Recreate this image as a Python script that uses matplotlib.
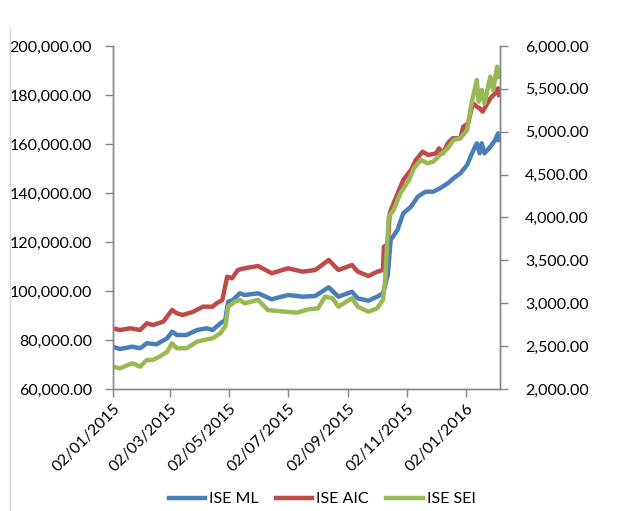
import matplotlib
matplotlib.use("Agg")
import matplotlib.pyplot as plt
import matplotlib.dates as mdates
from matplotlib.ticker import FuncFormatter
import pandas as pd

plt.rcParams['font.family'] = ['Lato', 'DejaVu Sans']

# ---- data ----
ml_dates = ["2015-01-02", "2015-01-09", "2015-01-22", "2015-01-30", "2015-02-06", "2015-02-16",
            "2015-02-27", "2015-03-04", "2015-03-09", "2015-03-19", "2015-03-30", "2015-04-09",
            "2015-04-15", "2015-04-23", "2015-04-28", "2015-05-01", "2015-05-06", "2015-05-13",
            "2015-05-18", "2015-06-01", "2015-06-15", "2015-07-02", "2015-07-17", "2015-07-30",
            "2015-08-13", "2015-08-23", "2015-09-06", "2015-09-12", "2015-09-23", "2015-10-02",
            "2015-10-08", "2015-10-13", "2015-10-16", "2015-10-23", "2015-10-29", "2015-11-06",
            "2015-11-13", "2015-11-21", "2015-11-29", "2015-12-06", "2015-12-14", "2015-12-20",
            "2015-12-27", "2016-01-03", "2016-01-08", "2016-01-13", "2016-01-16", "2016-01-18",
            "2016-01-21", "2016-01-27", "2016-02-01", "2016-02-04", "2016-02-05"]
ml_values = [77270, 76330, 77270, 76610, 78650, 78250,
             80700, 83390, 82040, 82040, 84080, 84780,
             84080, 86820, 88160, 95630, 96330, 99060,
             98370, 99060, 96610, 98370, 97680, 97960,
             101510, 97680, 99710, 97000, 96040, 97680,
             99060, 106500, 120820, 124900, 131710, 134410,
             138490, 140530, 140530, 141920, 143960, 146000,
             148040, 151430, 156200, 160290, 156200, 160290,
             156200, 158900, 161630, 164370, 161630]

aic_dates = ["2015-01-02", "2015-01-09", "2015-01-20", "2015-01-30", "2015-02-06", "2015-02-12",
             "2015-02-23", "2015-03-04", "2015-03-09", "2015-03-15", "2015-03-26", "2015-04-05",
             "2015-04-15", "2015-04-19", "2015-04-25", "2015-04-30", "2015-05-05", "2015-05-11",
             "2015-05-18", "2015-06-01", "2015-06-15", "2015-07-02", "2015-07-17", "2015-07-30",
             "2015-08-13", "2015-08-23", "2015-09-06", "2015-09-12", "2015-09-23", "2015-10-02",
             "2015-10-08", "2015-10-09", "2015-10-13", "2015-10-15", "2015-10-19", "2015-10-29",
             "2015-11-06", "2015-11-11", "2015-11-18", "2015-11-24", "2015-12-02", "2015-12-05",
             "2015-12-09", "2015-12-14", "2015-12-19", "2015-12-27", "2015-12-30", "2016-01-04",
             "2016-01-09", "2016-01-13", "2016-01-16", "2016-01-19", "2016-01-27", "2016-02-01",
             "2016-02-04", "2016-02-05"]
aic_values = [84780, 84080, 84780, 84080, 86820, 86120,
              87470, 92250, 90900, 90200, 91550, 93600,
              93600, 94980, 96330, 105830, 105180, 108570,
              109270, 110200, 107230, 109270, 107880, 108570,
              112650, 108570, 110610, 107880, 106120, 107880,
              108570, 118100, 119000, 131710, 135800, 145310,
              149390, 153470, 156860, 155510, 156200, 158250,
              156200, 160290, 162330, 162330, 167060, 168450,
              176610, 175230, 174570, 173180, 178650, 180690,
              182730, 180000]

sei_dates = ["2015-01-02", "2015-01-09", "2015-01-22", "2015-01-30", "2015-02-06", "2015-02-12",
             "2015-02-19", "2015-02-27", "2015-03-04", "2015-03-09", "2015-03-19", "2015-03-30",
             "2015-04-09", "2015-04-15", "2015-04-23", "2015-04-28", "2015-05-01", "2015-05-08",
             "2015-05-13", "2015-05-18", "2015-06-01", "2015-06-11", "2015-06-29", "2015-07-11",
             "2015-07-23", "2015-08-02", "2015-08-09", "2015-08-17", "2015-08-23", "2015-09-06",
             "2015-09-12", "2015-09-23", "2015-10-02", "2015-10-08", "2015-10-10", "2015-10-12",
             "2015-10-14", "2015-10-19", "2015-10-26", "2015-11-04", "2015-11-09", "2015-11-16",
             "2015-11-23", "2015-11-29", "2015-12-06", "2015-12-14", "2015-12-20", "2015-12-27",
             "2016-01-03", "2016-01-08", "2016-01-13", "2016-01-15", "2016-01-18", "2016-01-21",
             "2016-01-27", "2016-01-30", "2016-02-03", "2016-02-05"]
sei_values = [2260, 2241, 2300, 2260, 2338, 2338,
              2377, 2435, 2533, 2475, 2475, 2552,
              2580, 2591, 2650, 2727, 2960, 3018,
              3040, 3000, 3038, 2921, 2901, 2890,
              2929, 2941, 3077, 3058, 2960, 3058,
              2960, 2901, 2941, 3038, 3233, 3621,
              4009, 4087, 4282, 4437, 4574, 4671,
              4632, 4651, 4729, 4807, 4904, 4924,
              5020, 5350, 5603, 5350, 5487, 5332,
              5642, 5487, 5759, 5640]

series_names = ["ISE ML", "ISE AIC", "ISE SEI"]
x_tick_dates = ["2015-01-02", "2015-03-02", "2015-05-02", "2015-07-02",
                "2015-09-02", "2015-11-02", "2016-01-02"]
x_range = ["2015-01-02", "2016-02-06"]

left_ticks = [60000, 80000, 100000, 120000, 140000, 160000, 180000, 200000]
right_ticks = [2000, 2500, 3000, 3500, 4000, 4500, 5000, 5500, 6000]

# ---- styling ----
c_ml, c_aic, c_sei = "#4A7EBB", "#BE4B48", "#98B954"
axis_col = "#868686"
lw = 3.2

fig = plt.figure(figsize=(6.23, 5.11), dpi=100)
ax = fig.add_axes([113/623, 1-389/511, (500-113)/623, (389-46)/511])
ax2 = ax.twinx()

l1, = ax.plot(pd.to_datetime(ml_dates), ml_values, color=c_ml, lw=lw, solid_joinstyle='round')
l2, = ax.plot(pd.to_datetime(aic_dates), aic_values, color=c_aic, lw=lw, solid_joinstyle='round')
l3, = ax2.plot(pd.to_datetime(sei_dates), sei_values, color=c_sei, lw=lw, solid_joinstyle='round')

ax.set_ylim(left_ticks[0], left_ticks[-1])
ax.set_yticks(left_ticks)
ax2.set_ylim(right_ticks[0], right_ticks[-1])
ax2.set_yticks(right_ticks)
ax.set_xlim(pd.to_datetime(x_range[0]), pd.to_datetime(x_range[1]))
ax.set_xticks(pd.to_datetime(x_tick_dates))
ax.xaxis.set_major_formatter(mdates.DateFormatter("%d/%m/%Y"))

fmt = FuncFormatter(lambda v, p: f"{v:,.2f}")
ax.yaxis.set_major_formatter(fmt)
ax2.yaxis.set_major_formatter(fmt)

for a in (ax, ax2):
    for s in a.spines.values():
        s.set_color(axis_col)
        s.set_linewidth(1.0)
    a.spines['top'].set_visible(False)
    a.tick_params(axis='both', colors=axis_col, labelcolor='black', labelsize=11.5,
                  length=6, width=1.0, direction='out')
ax.tick_params(axis='y', pad=9)
ax2.tick_params(axis='y', pad=12)
ax.tick_params(axis='x', pad=3)
for lab in ax.get_xticklabels():
    lab.set_rotation(45)
    lab.set_ha('right')
    lab.set_rotation_mode('anchor')

fig.legend([l1, l2, l3], series_names, loc='lower center', ncol=3,
           bbox_to_anchor=(322/623, 0.006), frameon=False, fontsize=11.5,
           handlelength=2.3, handletextpad=0.25, columnspacing=1.05,
           borderaxespad=0.0, borderpad=0.1)

# faint chart-area border on the left
fig.add_artist(plt.Line2D([10/623, 10/623], [0, 1-28/511], color="#D9D9D9", lw=1.0))

fig.savefig("out.png", dpi=100)
